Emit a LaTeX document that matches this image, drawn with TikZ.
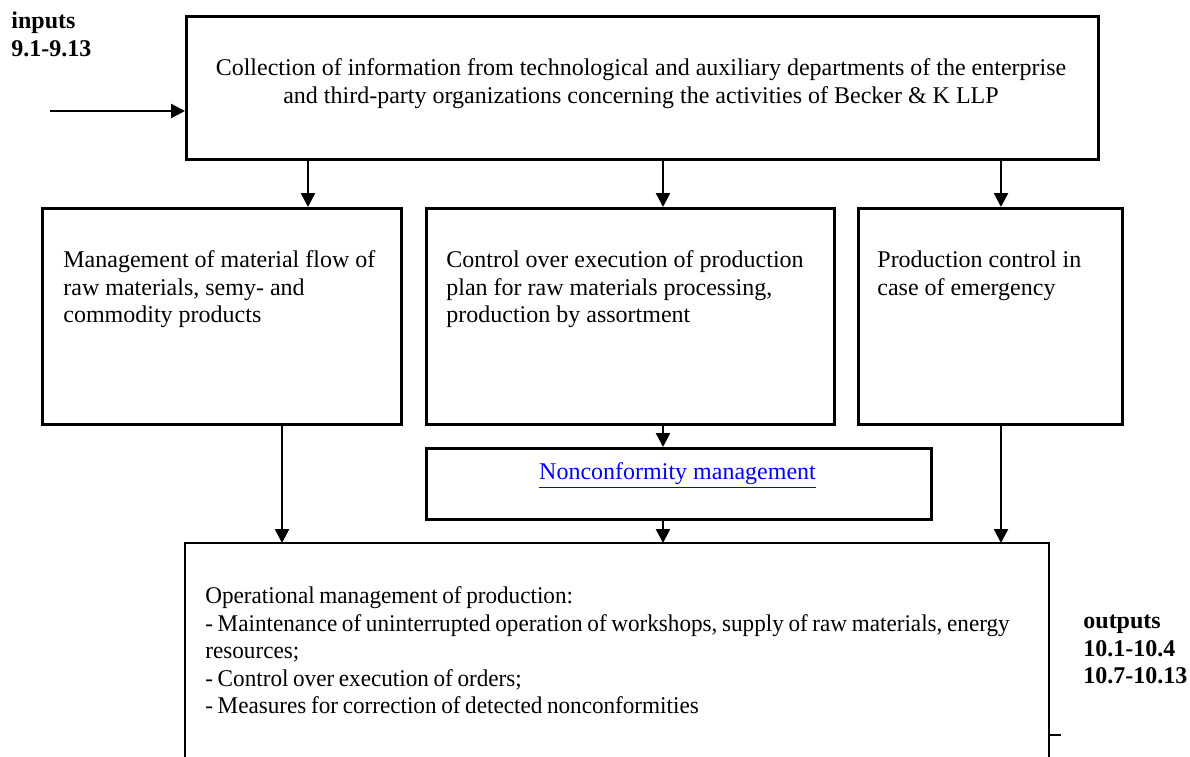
\documentclass[tikz,border=0pt]{standalone}
\usepackage{fontspec}
\setmainfont{Liberation Serif}
% a slightly narrower cut of the same serif, for the operational box
\newfontfamily\tightserif[WordSpace=0.8,FakeStretch=0.965]{Liberation Serif}
\usetikzlibrary{arrows.meta}
% invisible prop: puts the top of every text block 10pt above its first baseline
\newcommand\ascstrut{\rule{0pt}{10pt}}
\begin{document}
\begin{tikzpicture}[x=0.5pt,y=-0.5pt,
  box/.style={draw,line width=1.25pt,inner sep=0pt,anchor=north west},
  flow/.style={line width=1.25pt,-{Triangle[length=7pt,width=7pt]}},
  txt/.style={anchor=north west,inner sep=0pt,font=\fontsize{12}{13.8}\selectfont,align=left},
  lbl/.style={anchor=north west,inner sep=0pt,font=\fontsize{12}{13.8}\selectfont\bfseries,align=left}]
\useasboundingbox (0,0) rectangle (1190,756);
% boxes (sizes in pt, positions in px)
\node[box,minimum width=456pt,minimum height=71.5pt] (top) at (185,15) {};
\node[box,minimum width=179.5pt,minimum height=108pt] (ma) at (41,207) {};
\node[box,minimum width=204pt,minimum height=108pt] (mb) at (425,207) {};
\node[box,minimum width=132pt,minimum height=108pt] (mc) at (857,207) {};
\node[box,minimum width=252.5pt,minimum height=35.5pt] (nc) at (425,447) {};
% operational box, open at the lower edge of the page
\draw[line width=1.25pt] (185,770) -- (185,543) coordinate (opNW) -- (1049,543) coordinate (opNE) -- (1049,770);
\coordinate (tickA) at (1049,735);
\coordinate (tickB) at (1061,735);
\draw[line width=1.25pt] (tickA) -- (tickB);
% texts
\node[anchor=north,inner sep=0pt,font=\fontsize{12}{13.8}\selectfont,align=center] (topText) at (641,55)
 {\ascstrut Collection of information from technological and auxiliary departments of the enterprise\\
  and third-party organizations concerning the activities of Becker \& K LLP};
\node[txt] (maText) at (63,247) {\ascstrut Management of material flow of\\raw materials, semy- and\\commodity products};
\node[txt] (mbText) at (446,247) {\ascstrut Control over execution of production\\plan for raw materials processing,\\production by assortment};
\node[txt] (mcText) at (877,247) {\ascstrut Production control in\\case of emergency};
\node[anchor=north,inner sep=0pt,font=\fontsize{12}{13.8}\selectfont,text={rgb,255:red,0;green,0;blue,255}] (ncText) at (677.5,459)
 {\ascstrut\underline{Nonconformity management}};
\node[txt,font=\tightserif\fontsize{12}{13.8}\selectfont] (opText) at (205,583) {\ascstrut Operational management of production:\\
 - Maintenance of uninterrupted operation of workshops, supply of raw materials, energy\\
 resources;\\
 - Control over execution of orders;\\
 - Measures for correction of detected nonconformities};
\node[lbl] (inLbl) at (11,8) {\ascstrut inputs\\9.1-9.13};
\node[lbl] (outLbl) at (1083,608) {\ascstrut outputs\\10.1-10.4\\10.7-10.13};
% connectors
\coordinate (inStart) at (50,111);
\draw[flow] (inStart) -- (inStart -| top.west);
\draw[flow] (top.south -| 308,0) -- (ma.north -| 308,0);
\draw[flow] (top.south -| 663,0) -- (mb.north -| 663,0);
\draw[flow] (top.south -| 1001,0) -- (mc.north -| 1001,0);
\draw[flow] (ma.south -| 282,0) -- (opNW -| 282,0);
\draw[flow] (mb.south -| 663,0) -- (nc.north -| 663,0);
\draw[flow] (nc.south -| 663,0) -- (opNW -| 663,0);
\draw[flow] (mc.south -| 1001,0) -- (opNW -| 1001,0);
\end{tikzpicture}
\end{document}
